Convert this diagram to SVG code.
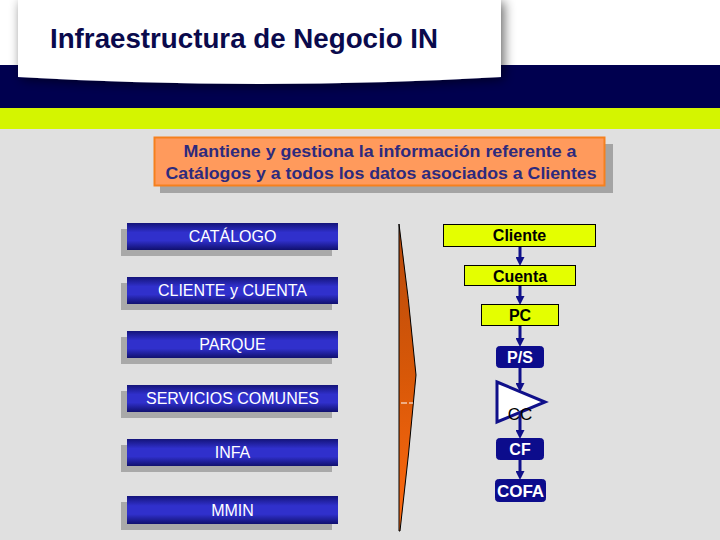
<svg xmlns="http://www.w3.org/2000/svg" width="720" height="540" viewBox="0 0 720 540">
<defs>
<style>
.btn{fill:url(#blueGrad);}
.btnsh{fill:#a9a9a9;}
.btntx{font-family:"Liberation Sans",Arial,sans-serif;font-size:16px;fill:#ffffff;text-anchor:middle;}
.yel{fill:#e4ff00;stroke:#000000;stroke-width:1;}
.yeltx{font-family:"Liberation Sans",Arial,sans-serif;font-size:16px;font-weight:bold;fill:#000000;text-anchor:middle;}
.nav{fill:#0c0c8c;stroke:#0c0c8c;stroke-width:1;}
.navtx{font-family:"Liberation Sans",Arial,sans-serif;font-size:16px;font-weight:bold;fill:#ffffff;text-anchor:middle;}
.conn{stroke:#10108a;stroke-width:3;fill:none;marker-end:url(#arr);}
</style>
<linearGradient id="blueGrad" x1="0" y1="0" x2="0" y2="1">
<stop offset="0" stop-color="#14147a"/>
<stop offset="0.35" stop-color="#3030cc"/>
<stop offset="0.65" stop-color="#3030cc"/>
<stop offset="1" stop-color="#10106e"/>
</linearGradient>
<linearGradient id="braceGrad" x1="0" y1="0" x2="0" y2="1">
<stop offset="0" stop-color="#b84a0c"/>
<stop offset="0.5" stop-color="#d85808"/>
<stop offset="1" stop-color="#ff6a10"/>
</linearGradient>
<filter id="cardSh" x="-10%" y="-30%" width="120%" height="160%">
<feGaussianBlur in="SourceAlpha" stdDeviation="6"/>
<feOffset dx="3" dy="2" result="b"/>
<feComponentTransfer><feFuncA type="linear" slope="0.6"/></feComponentTransfer>
<feMerge><feMergeNode/><feMergeNode in="SourceGraphic"/></feMerge>
</filter>
<marker id="arr" markerUnits="userSpaceOnUse" markerWidth="10" markerHeight="9" refX="3" refY="4.5" orient="auto">
<path d="M0,0 L9,4.5 L0,9 Z" fill="#10108a"/>
</marker>
</defs>

<rect x="0" y="0" width="720" height="540" fill="#e0e0e0"/>
<rect x="0" y="0" width="720" height="65" fill="#ffffff"/>
<rect x="0" y="65" width="720" height="43" fill="#00004f"/>
<rect x="0" y="108" width="720" height="21" fill="#d4f500"/>

<g id="header">
<path d="M18,0 L501,0 L501,77 Q260,91 18,77 Z" fill="#ffffff" filter="url(#cardSh)"/>
<text x="50" y="48" font-family="'Liberation Sans',Arial,sans-serif" font-size="28" font-weight="bold" fill="#0a0a4c" textLength="388" lengthAdjust="spacingAndGlyphs">Infraestructura de Negocio IN</text>
</g>

<g id="summary">
<rect x="160" y="144" width="453" height="49" fill="#a4a4a4"/>
<rect x="154.5" y="137.5" width="450" height="48" fill="#ff9a5c" stroke="#f5801e" stroke-width="2"/>
<text x="380" y="157" font-family="'Liberation Sans',Arial,sans-serif" font-size="16" font-weight="bold" fill="#2d2a7d" text-anchor="middle" textLength="393" lengthAdjust="spacingAndGlyphs">Mantiene y gestiona la información referente a</text>
<text x="381" y="179" font-family="'Liberation Sans',Arial,sans-serif" font-size="16" font-weight="bold" fill="#2d2a7d" text-anchor="middle" textLength="431" lengthAdjust="spacingAndGlyphs">Catálogos y a todos los datos asociados a Clientes</text>
</g>

<g id="catalogo">
<rect class="btnsh" x="121" y="229" width="211" height="27"/>
<rect class="btn" x="127" y="223" width="211" height="27"/>
<text class="btntx" x="232.5" y="242">CATÁLOGO</text>
</g>
<g id="cliente-cuenta">
<rect class="btnsh" x="121" y="283" width="211" height="27"/>
<rect class="btn" x="127" y="277" width="211" height="27"/>
<text class="btntx" x="232.5" y="296">CLIENTE y CUENTA</text>
</g>
<g id="parque">
<rect class="btnsh" x="121" y="337" width="211" height="27"/>
<rect class="btn" x="127" y="331" width="211" height="27"/>
<text class="btntx" x="232.5" y="350">PARQUE</text>
</g>
<g id="servicios-comunes">
<rect class="btnsh" x="121" y="391" width="211" height="27"/>
<rect class="btn" x="127" y="385" width="211" height="27"/>
<text class="btntx" x="232.5" y="404">SERVICIOS COMUNES</text>
</g>
<g id="infa">
<rect class="btnsh" x="121" y="445" width="211" height="27"/>
<rect class="btn" x="127" y="439" width="211" height="27"/>
<text class="btntx" x="232.5" y="458">INFA</text>
</g>
<g id="mmin">
<rect class="btnsh" x="121" y="502" width="211" height="28"/>
<rect class="btn" x="127" y="496" width="211" height="28"/>
<text class="btntx" x="232.5" y="516">MMIN</text>
</g>

<g id="brace">
<path d="M399,224 Q409,298 416,375 Q409,455 400,531 L399,531 Z" fill="url(#braceGrad)" stroke="#000000" stroke-width="1"/>
<line x1="401" y1="403" x2="413" y2="403" stroke="#ffffff" stroke-width="1" stroke-dasharray="6,2"/>
</g>

<g id="connectors">
<line class="conn" x1="520" y1="247" x2="520" y2="260"/>
<line class="conn" x1="520" y1="286" x2="520" y2="299"/>
<line class="conn" x1="520" y1="326" x2="520" y2="341"/>
<line class="conn" x1="520" y1="368" x2="520" y2="386"/>
<line class="conn" x1="520" y1="413" x2="520" y2="433"/>
<line class="conn" x1="520" y1="460" x2="520" y2="474"/>
</g>

<g id="n-cliente">
<rect class="yel" x="443.5" y="224.5" width="152" height="22"/>
<text class="yeltx" x="519.5" y="241">Cliente</text>
</g>
<g id="n-cuenta">
<rect class="yel" x="464.5" y="265.5" width="111" height="20"/>
<text class="yeltx" x="520" y="282">Cuenta</text>
</g>
<g id="n-pc">
<rect class="yel" x="481.5" y="304.5" width="77" height="21"/>
<text class="yeltx" x="520" y="321">PC</text>
</g>
<g id="n-ps">
<rect class="nav" x="496.5" y="346.5" width="47" height="21" rx="3"/>
<text class="navtx" x="520" y="363">P/S</text>
</g>
<g id="n-cc">
<polygon points="497,382 545,402 497,422" fill="#ffffff" stroke="#10108a" stroke-width="3" stroke-linejoin="miter"/>
<text x="520" y="420" font-family="'Liberation Sans',Arial,sans-serif" font-size="17" fill="#000000" text-anchor="middle">CC</text>
</g>
<g id="n-cf">
<rect class="nav" x="496.5" y="438.5" width="47" height="21" rx="3"/>
<text class="navtx" x="520" y="455">CF</text>
</g>
<g id="n-cofa">
<rect class="nav" x="495.5" y="479.5" width="50" height="22" rx="3"/>
<text class="navtx" x="520.5" y="497" style="font-size:17px">COFA</text>
</g>
</svg>
